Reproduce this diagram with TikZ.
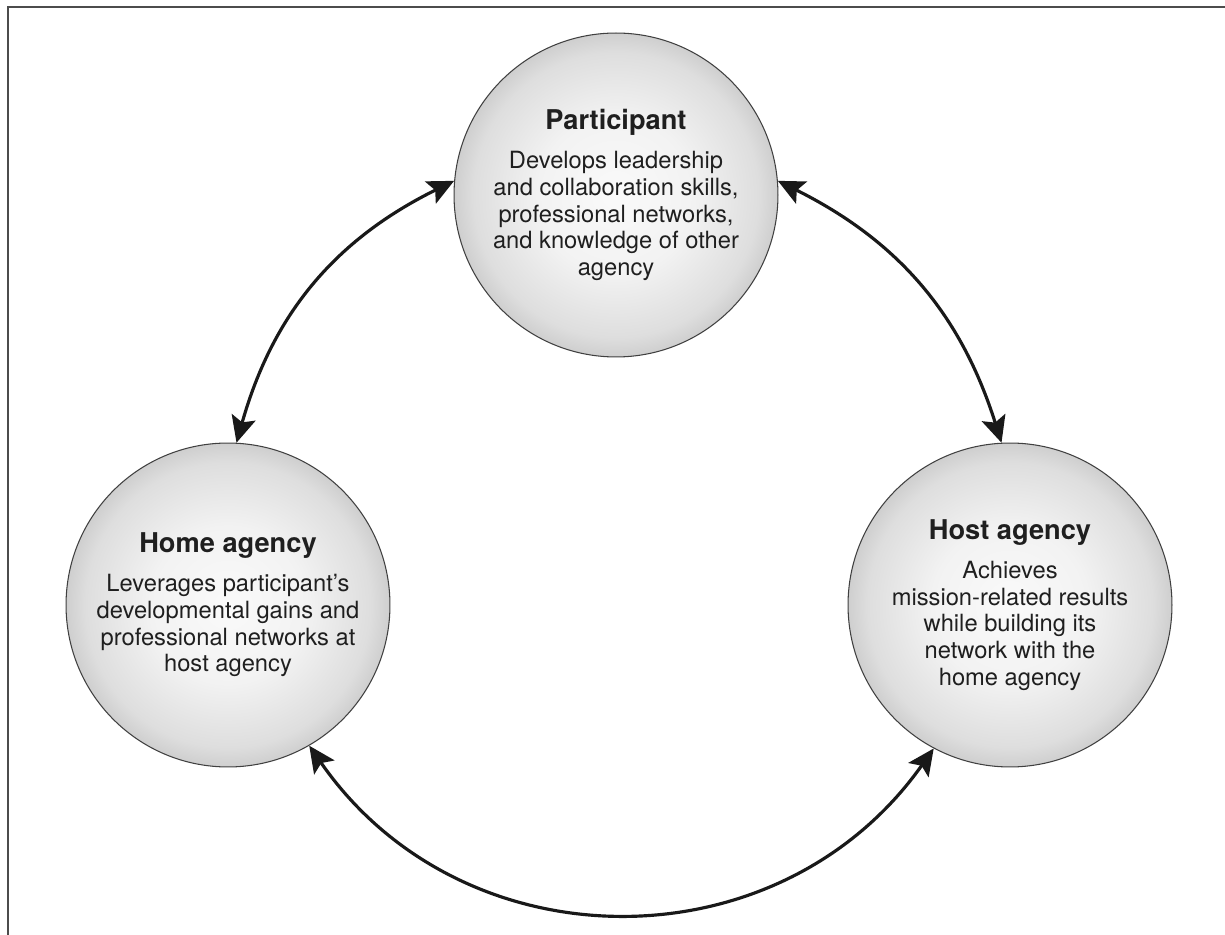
\documentclass[tikz,border=0pt]{standalone}
\usepackage{fontspec}
\setmainfont{TeX Gyre Heros}
\usetikzlibrary{arrows.meta}
\pgfdeclareradialshading{bubble}{\pgfpoint{0bp}{0bp}}{color(0bp)=(black!2); color(12bp)=(black!5); color(22bp)=(black!13); color(29bp)=(black!27); color(34bp)=(black!38); color(50bp)=(black!40)}
\newcommand{\agtitle}[1]{{\fontsize{15.5}{18}\selectfont\bfseries #1}\\[7pt]}

\begin{document}
\begin{tikzpicture}[x=0.02cm, y=-0.02cm,
  agency/.style={circle, minimum size=6.48cm, inner sep=0pt, draw=black!75, line width=0.6pt,
    shade, shading=bubble, align=center, text=black!88, font=\fontsize{13.5}{15.2}\selectfont},
  link/.style={line width=1.8pt, black!90,
    {Stealth[length=15pt,width=14pt,inset=3pt]}-{Stealth[length=15pt,width=14pt,inset=3pt]}}]
  \useasboundingbox (0,0) rectangle (1225,935);

  % moldura
  \draw[line width=1.2pt, black!70] (8,935) -- (8,7) -- (1225,7);

  % circulos
  \node[agency] (part) at (616,195) {\agtitle{Participant}
    Develops leadership\\ and collaboration skills,\\ professional networks,\\ and knowledge of other\\ agency};
  \node[agency] (home) at (228,605) {\agtitle{Home agency}
    Leverages participant’s\\ developmental gains and\\ professional networks at\\ host agency};
  \node[agency] (host) at (1010,605) {\agtitle{Host agency}
    Achieves\\ mission-related results\\ while building its\\ network with the\\ home agency};

  % setas
  \draw[link] (home.87) to[bend left=24] (part.175);
  \draw[link] (part.5) to[bend left=23] (host.93);
  \draw[link] (home.-60) to[bend right=55, looseness=1.1] (host.-118);
\end{tikzpicture}
\end{document}
